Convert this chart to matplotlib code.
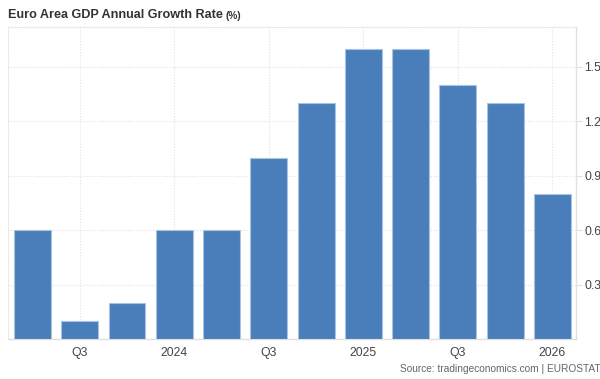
import matplotlib
matplotlib.use("Agg")
import matplotlib.pyplot as plt
import numpy as np

# Quarterly year-on-year GDP growth, Q2 2023 .. Q1 2026
quarters = ["Q2 2023", "Q3 2023", "Q4 2023", "Q1 2024", "Q2 2024", "Q3 2024",
            "Q4 2024", "Q1 2025", "Q2 2025", "Q3 2025", "Q4 2025", "Q1 2026"]
growth = [0.6, 0.1, 0.2, 0.6, 0.6, 1.0, 1.3, 1.6, 1.6, 1.4, 1.3, 0.8]
tick_labels = ["Q3", "2024", "Q3", "2025", "Q3", "2026"]
tick_index = [1, 3, 5, 7, 9, 11]
y_ticks = [0.3, 0.6, 0.9, 1.2, 1.5]

plt.rcParams["font.family"] = ["Liberation Sans", "DejaVu Sans"]

fig = plt.figure(figsize=(6.0, 3.79), dpi=100)
ax = fig.add_axes([0.0133, 0.1055, 0.9467, 0.8233])

x = np.arange(len(quarters))
ax.bar(x, growth, width=0.78, color="#4a7ebb", edgecolor="#a9c3e3",
       linewidth=0.8, zorder=3)

ax.set_xlim(-0.52, 11.5)
ax.set_ylim(0, 1.72)

ax.set_xticks(tick_index)
ax.set_xticklabels(tick_labels)
ax.set_yticks(y_ticks)
ax.set_yticklabels([f"{v:.1f}" for v in y_ticks])
ax.yaxis.tick_right()

ax.grid(True, axis="both", color="#e2e2e2", linestyle=(0, (1, 1.5)),
        linewidth=0.8, zorder=0)

for side in ["left", "top"]:
    ax.spines[side].set_color("#e6e6e6")
    ax.spines[side].set_linestyle((0, (1, 1.5)))
    ax.spines[side].set_linewidth(0.8)
for side in ["right", "bottom"]:
    ax.spines[side].set_color("#e0e0e0")
    ax.spines[side].set_linewidth(1.0)

ax.tick_params(axis="x", length=0, pad=6, labelsize=8.8, labelcolor="#444444")
ax.tick_params(axis="y", length=4, color="#e0e0e0", pad=2, labelsize=8.8,
               labelcolor="#444444")

fig.text(0.0133, 0.960, "Euro Area GDP Annual Growth Rate", fontsize=9.1,
         fontweight="bold", color="#333333", ha="left", va="center")
fig.text(0.376, 0.958, "(%)", fontsize=7.2, fontweight="bold",
         color="#333333", ha="left", va="center")
fig.text(1.0, 0.027, "Source: tradingeconomics.com | EUROSTAT", fontsize=7.3,
         color="#666666", ha="right", va="center")

fig.savefig("out.png", dpi=100)
